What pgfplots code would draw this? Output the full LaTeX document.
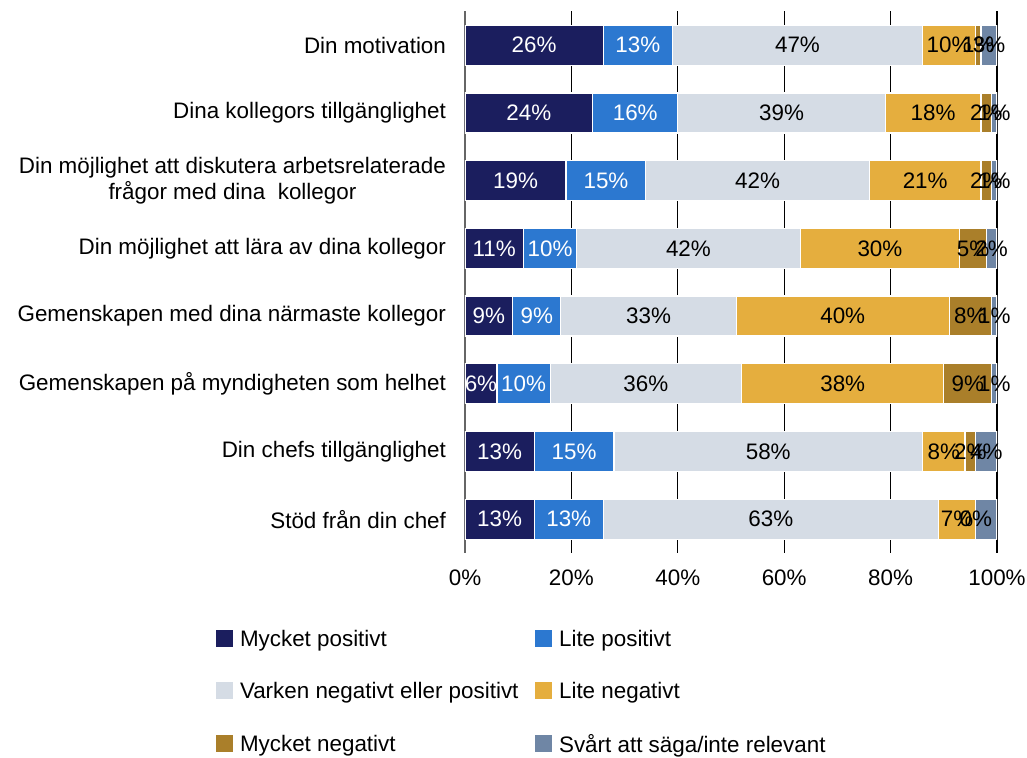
\documentclass[border=0pt]{standalone}
\usepackage{fontspec}
\setmainfont{Liberation Sans}
\usepackage{pgfplots}
\pgfplotsset{compat=1.18}
\definecolor{c1}{RGB}{27,30,94}
\definecolor{c2}{RGB}{44,120,208}
\definecolor{c3}{RGB}{213,220,229}
\definecolor{c4}{RGB}{229,174,62}
\definecolor{c5}{RGB}{170,127,42}
\definecolor{c6}{RGB}{111,134,165}
\begin{document}
\begin{tikzpicture}[font=\fontsize{11.2}{13.4}\selectfont]
\path[use as bounding box] (-232.5pt,-102.5pt) rectangle (281pt,276.5pt);
\begin{axis}[at={(0,0)}, anchor=south west, scale only axis,
  width=266pt, height=270.8pt,
  xbar stacked, bar width=20pt,
  xmin=0, xmax=100, ymin=-0.5, ymax=7.5, y dir=reverse,
  ytick={0,...,7},
  yticklabels={Din motivation, Dina kollegors tillgänglighet, {Din möjlighet att diskutera arbetsrelaterade\\frågor med dina\ \ kollegor}, Din möjlighet att lära av dina kollegor, Gemenskapen med dina närmaste kollegor, Gemenskapen på myndigheten som helhet, Din chefs tillgänglighet, Stöd från din chef},
  yticklabel style={align=center, xshift=-6pt},
  xtick={0,20,...,100},
  xticklabel={\pgfmathprintnumber{\tick}\%},
  xticklabel style={yshift=-5pt},
  /pgf/number format/assume math mode=true,
  xmajorgrids, grid style={black, line width=0.6pt},
  axis lines*=left, x axis line style={draw=none}, y axis line style={gray!80!black, line width=0.8pt},
  major tick length=0,
  tick label style={font=\fontsize{11.2}{13.4}\selectfont},
  nodes near coords={\pgfmathprintnumber[fixed,precision=0]{\pgfplotspointmeta}\%},
  every node near coord/.append style={font=\fontsize{11.2}{13.4}\selectfont, black},
  legend columns=2,
  legend cell align=left,
  legend style={draw=none, fill=none, at={(-0.4793,-0.127)}, anchor=north west,
    row sep=12.5pt, font=\fontsize{11.2}{13.4}\selectfont},
  /tikz/every even column/.append style={column sep=6.5pt},
  legend image code/.code={\fill[#1,draw=none] (0pt,-3.5pt) rectangle (8.5pt,5pt); \path (9.5pt,0pt) -- (9.5pt,0pt);},
]
\addplot[fill=c1, draw=white, line width=0.6pt, every node near coord/.append style={white}] coordinates {(26,0) (24,1) (19,2) (11,3) (9,4) (6,5) (13,6) (13,7)};
\addplot[fill=c2, draw=white, line width=0.6pt, every node near coord/.append style={white}] coordinates {(13,0) (16,1) (15,2) (10,3) (9,4) (10,5) (15,6) (13,7)};
\addplot[fill=c3, draw=white, line width=0.6pt] coordinates {(47,0) (39,1) (42,2) (42,3) (33,4) (36,5) (58,6) (63,7)};
\addplot[fill=c4, draw=white, line width=0.6pt] coordinates {(10,0) (18,1) (21,2) (30,3) (40,4) (38,5) (8,6) (7,7)};
\addplot[fill=c5, draw=white, line width=0.6pt] coordinates {(1,0) (2,1) (2,2) (5,3) (8,4) (9,5) (2,6) (0.01,7)};
\addplot[fill=c6, draw=white, line width=0.6pt] coordinates {(3,0) (1,1) (1,2) (2,3) (1,4) (1,5) (4,6) (4,7)};
\legend{Mycket positivt, Lite positivt, Varken negativt eller positivt, Lite negativt, Mycket negativt, Svårt att säga/inte relevant}
\end{axis}
\end{tikzpicture}
\end{document}
